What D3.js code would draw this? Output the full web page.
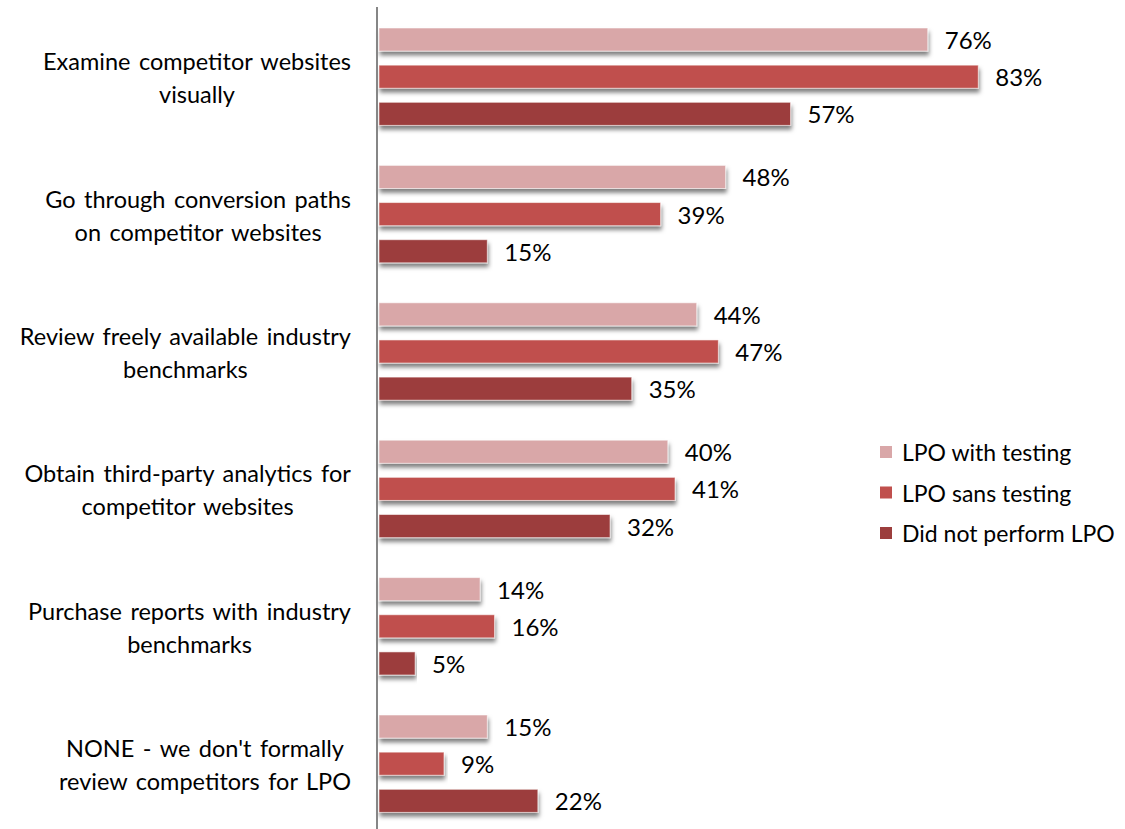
<!DOCTYPE html>
<html>
<head>
<meta charset="utf-8">
<script src="https://cdn.jsdelivr.net/npm/d3@7"></script>
<style>
  html, body { margin: 0; padding: 0; background: #fff; }
  svg { display: block; font-family: Lato, "Open Sans", sans-serif; }
</style>
</head>
<body>
<svg id="chart" width="1125" height="829"></svg>
<script>
const categories = [
  ["Examine competitor websites", "visually"],
  ["Go through conversion paths", "on competitor websites"],
  ["Review freely available industry", "benchmarks"],
  ["Obtain third-party analytics for", "competitor websites"],
  ["Purchase reports with industry", "benchmarks"],
  ["NONE - we don't formally", "review competitors for LPO"]
];
const seriesNames = ["LPO with testing", "LPO sans testing", "Did not perform LPO"];
const lpoWithTesting = [76, 48, 44, 40, 14, 15];
const lpoSansTesting = [83, 39, 47, 41, 16, 9];
const didNotPerform = [57, 15, 35, 32, 5, 22];
const seriesValues = [lpoWithTesting, lpoSansTesting, didNotPerform];
const colors = ["#D9A7A8", "#C0504D", "#9C3E3D"];

const svg = d3.select("#chart");
const catKeys = categories.map((c, i) => i);

const defs = svg.append("defs");
const f = defs.append("filter").attr("id", "shadow")
  .attr("x", "-5%").attr("y", "-30%").attr("width", "110%").attr("height", "190%");
f.append("feDropShadow").attr("dx", 1).attr("dy", 4).attr("stdDeviation", 2)
  .attr("flood-color", "#000").attr("flood-opacity", 0.5);

const x = d3.scaleLinear().domain([0, 100]).range([379, 1101]);
const y = d3.scaleBand().domain(catKeys).range([8, 832.4]).paddingInner(0).paddingOuter(0);
const bandH = y.bandwidth();
const ySub = d3.scaleBand().domain([0, 1, 2]).range([20, bandH - 20]).paddingInner(14 / 37).paddingOuter(0);

// bars
const groups = svg.append("g").selectAll("g.cat")
  .data(catKeys).join("g").attr("class", "cat")
  .attr("transform", d => `translate(0,${y(d)})`);

groups.selectAll("rect")
  .data(ci => seriesValues.map((arr, si) => ({ si, v: arr[ci] })))
  .join("rect")
  .attr("x", x(0))
  .attr("y", d => ySub(d.si))
  .attr("width", d => x(d.v) - x(0))
  .attr("height", ySub.bandwidth())
  .attr("fill", d => colors[d.si])
  .attr("stroke", "rgba(255,255,255,0.55)")
  .attr("stroke-width", 1)
  .attr("filter", "url(#shadow)");

groups.selectAll("text.val")
  .data(ci => seriesValues.map((arr, si) => ({ si, v: arr[ci] })))
  .join("text").attr("class", "val")
  .attr("x", d => x(d.v) + 17)
  .attr("y", d => ySub(d.si) + ySub.bandwidth() / 2)
  .attr("dominant-baseline", "central")
  .attr("font-size", 24)
  .attr("fill", "#000")
  .text(d => d.v + "%");

// axis line
const yAxis = d3.axisLeft(y).tickSize(0).tickFormat("");
svg.append("g").attr("transform", `translate(377,0)`).call(yAxis)
  .call(g => g.select(".domain").attr("stroke", "#868686").attr("stroke-width", 2)
    .attr("d", "M0,7V832"));

// category labels
const labelRight = 351;
const lab = svg.append("g").selectAll("g.lab").data(catKeys).join("g").attr("class", "lab");
lab.each(function (ci) {
  const g = d3.select(this);
  const cy = y(ci) + bandH / 2 + 1;
  const lines = categories[ci];
  const ts = lines.map((t, li) => g.append("text")
    .attr("font-size", 23.5)
    .attr("word-spacing", 2.5)
    .attr("fill", "#000")
    .attr("text-anchor", "middle")
    .attr("dominant-baseline", "central")
    .attr("y", cy + (li - (lines.length - 1) / 2) * 33)
    .text(t));
  const maxW = d3.max(ts, t => t.node().getBBox().width);
  ts.forEach(t => t.attr("x", labelRight - maxW / 2));
});

// legend
const legend = svg.append("g").attr("transform", "translate(880,452)");
const li = legend.selectAll("g").data(seriesNames).join("g")
  .attr("transform", (d, i) => `translate(0,${i * 40.5})`);
li.append("rect").attr("x", 0).attr("y", -6).attr("width", 12).attr("height", 12)
  .attr("fill", (d, i) => colors[i]);
li.append("text").attr("x", 22).attr("y", 0).attr("dominant-baseline", "central")
  .attr("font-size", 23).attr("fill", "#000").text(d => d);
</script>
</body>
</html>
